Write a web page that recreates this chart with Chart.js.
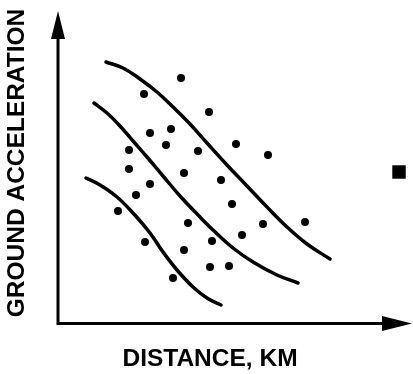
<!DOCTYPE html>
<html>
<head>
<meta charset="utf-8">
<script src="https://cdn.jsdelivr.net/npm/chart.js@4"></script>
<style>
  html, body { margin: 0; padding: 0; background: #fff; }
</style>
</head>
<body>
<canvas id="chart" width="413" height="374"></canvas>
<script>
// scattered observations (unitless, origin at the axes corner)
const dotX = [124, 87, 152, 93, 114, 109, 72, 141, 179, 211, 72, 127, 164, 93, 79, 175, 61, 131, 206, 248, 185, 88, 155, 127, 153, 172, 116];
const dotY = [245, 229, 211, 190, 194, 178, 173, 172, 179, 168, 154, 150, 143, 139, 128, 119, 112, 100, 99, 101, 88, 81, 82, 73, 56, 57, 45];

// the three attenuation curves
const upperX = [49, 66, 83, 100, 116, 133, 150, 170, 190, 210, 230, 250, 273];
const upperY = [261, 255, 244, 231, 216, 199, 180, 158, 137, 116, 96, 79, 64];
const middleX = [37, 50, 63, 76, 90, 106, 123, 143, 156, 176, 196, 220, 241];
const middleY = [220, 210, 197, 182, 166, 147, 127, 106, 93, 75, 61, 48, 40];
const lowerX = [29, 43, 60, 76, 93, 106, 120, 136, 150, 164];
const lowerY = [145, 138, 126, 110, 90, 71, 53, 36, 25, 18];

// the little square to the right of the plot
const markerX = [342];
const markerY = [151];

const xMax = 355;
const yMax = 312;
const xTitle = 'DISTANCE, KM';
const yTitle = 'GROUND ACCELERATION';

function toPoints(xs, ys) {
    return xs.map((x, i) => ({ x: x, y: ys[i] }));
}

function curve(xs, ys) {
    return {
        data: toPoints(xs, ys),
        showLine: true,
        borderColor: '#000',
        borderWidth: 3.5,
        tension: 0.4,
        pointRadius: 0,
        borderCapStyle: 'round',
        fill: false
    };
}

// axis lines with arrow heads, plus the two titles
const axesPlugin = {
    id: 'arrowAxes',
    afterDatasetsDraw(chart) {
        const ctx = chart.ctx;
        const x0 = chart.scales.x.getPixelForValue(0) + 1;
        const y0 = chart.scales.y.getPixelForValue(0) + 0.5;
        const top = chart.chartArea.top;
        const right = chart.chartArea.right;

        ctx.save();
        ctx.strokeStyle = '#000';
        ctx.fillStyle = '#000';
        ctx.lineWidth = 3;
        ctx.beginPath();
        ctx.moveTo(x0, y0 + 1.5);
        ctx.lineTo(x0, top + 20);
        ctx.moveTo(x0 - 1.5, y0);
        ctx.lineTo(right - 20, y0);
        ctx.stroke();

        // y arrow
        ctx.beginPath();
        ctx.moveTo(x0, top);
        ctx.lineTo(x0 + 7, top + 28);
        ctx.lineTo(x0 - 7, top + 28);
        ctx.closePath();
        ctx.fill();

        // x arrow
        ctx.beginPath();
        ctx.moveTo(right, y0);
        ctx.lineTo(right - 30, y0 - 7.5);
        ctx.lineTo(right - 30, y0 + 7.5);
        ctx.closePath();
        ctx.fill();

        ctx.font = 'bold 24.5px "Liberation Sans", Arial, sans-serif';
        ctx.textAlign = 'center';
        ctx.textBaseline = 'middle';
        ctx.fillText(xTitle, 210, 359);

        ctx.translate(16, 163);
        ctx.rotate(-Math.PI / 2);
        ctx.fillText(yTitle, 0, 1);
        ctx.restore();
    }
};

const ctx = document.getElementById('chart').getContext('2d');
const chart = new Chart(ctx, {
    type: 'scatter',
    data: {
        datasets: [
            curve(upperX, upperY),
            curve(middleX, middleY),
            curve(lowerX, lowerY),
            {
                data: toPoints(dotX, dotY),
                backgroundColor: '#000',
                borderColor: '#000',
                pointRadius: 4,
                borderWidth: 0
            },
            {
                data: toPoints(markerX, markerY),
                pointStyle: 'rect',
                backgroundColor: '#000',
                borderColor: '#000',
                pointRadius: 9.5,
                borderWidth: 0
            }
        ]
    },
    options: {
        responsive: false,
        devicePixelRatio: 1,
        animation: false,
        layout: { autoPadding: false, padding: { top: 11, right: 1 } },
        plugins: {
            legend: { display: false },
            tooltip: { enabled: false }
        },
        scales: {
            x: {
                type: 'linear',
                min: 0,
                max: xMax,
                grid: { display: false },
                border: { display: false },
                ticks: { display: false },
                afterFit(scale) { scale.height = 51; }
            },
            y: {
                type: 'linear',
                min: 0,
                max: yMax,
                grid: { display: false },
                border: { display: false },
                ticks: { display: false },
                afterFit(scale) { scale.width = 57; }
            }
        }
    },
    plugins: [axesPlugin]
});
</script>
</body>
</html>
